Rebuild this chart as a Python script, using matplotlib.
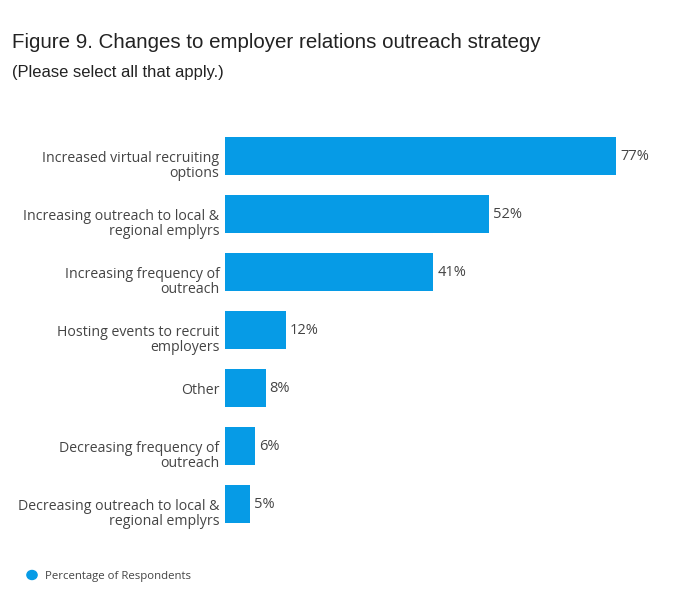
import matplotlib
matplotlib.use("Agg")
import matplotlib.pyplot as plt
import matplotlib.transforms as mtransforms

categories = ["Increased virtual recruiting\noptions",
              "Increasing outreach to local &\nregional emplyrs",
              "Increasing frequency of\noutreach",
              "Hosting events to recruit\nemployers",
              "Other",
              "Decreasing frequency of\noutreach",
              "Decreasing outreach to local &\nregional emplyrs"]
values = [77, 52, 41, 12, 8, 6, 5]
series_name = "Percentage of Respondents"

blue = "#069be6"
txt = "#444444"

fig = plt.figure(figsize=(6.8, 6.01), dpi=100)
ax = fig.add_axes([225/680, 1-533/601, (657-225)/680, 406/601])

y = list(range(len(values)))
ax.barh(y, values, height=0.655, color=blue)
ax.set_xlim(0, 85)
ax.set_ylim(len(values)-0.5, -0.5)
for i, v in enumerate(values):
    ax.text(v + 0.8, i, "%d%%" % v, va="center", ha="left", fontsize=10.5,
            color=txt, family="Open Sans")
ax.set_yticks(y)
ax.set_yticklabels(categories, fontsize=10.2, color=txt, family="Open Sans",
                   linespacing=1.03)
ax.tick_params(axis="y", length=0, pad=4)
# two-line labels: first line sits level with the bar centre
shift = mtransforms.ScaledTranslation(0, -7.5/100, fig.dpi_scale_trans)
for lab in ax.get_yticklabels():
    if "\n" in lab.get_text():
        lab.set_transform(lab.get_transform() + shift)
ax.set_xticks([])
for s in ax.spines.values():
    s.set_visible(False)

fig.text(12/680, 1-42/601, "Figure 9. Changes to employer relations outreach strategy",
         fontsize=14.8, color="#222222", family="Liberation Sans", va="center")
fig.text(12/680, 1-73/601, "(Please select all that apply.)",
         fontsize=11.9, color="#222222", family="Liberation Sans", va="center")

fig.text(45/680, 1-576.5/601, series_name, fontsize=8.2, color=txt,
         family="Open Sans", va="center")
fig.patches.append(matplotlib.patches.Circle((32/680, 1-575/601), 0.0075,
                   transform=fig.transFigure, color=blue))

fig.savefig("out.png", dpi=100)
